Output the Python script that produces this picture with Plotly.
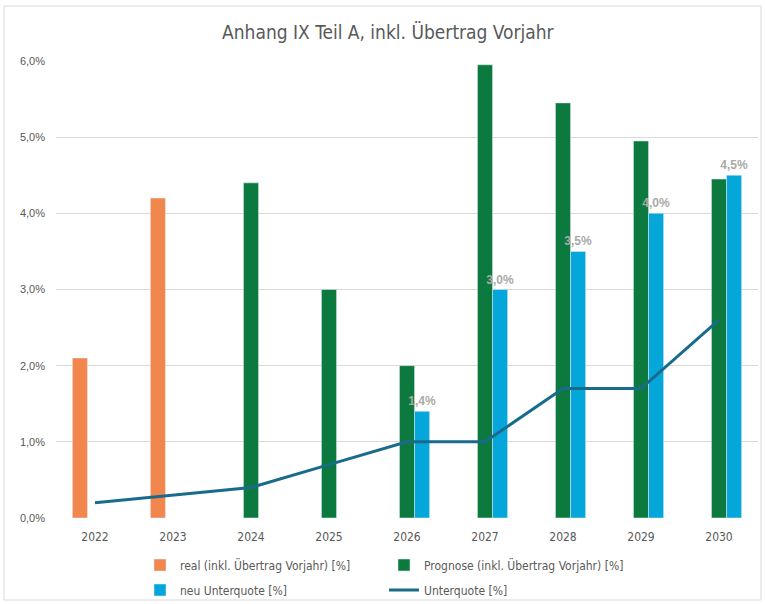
import plotly.graph_objects as go

years = ["2022", "2023", "2024", "2025", "2026", "2027", "2028", "2029", "2030"]
real = [2.1, 4.2, None, None, None, None, None, None, None]
prognose = [None, None, 4.4, 3.0, 2.0, 5.95, 5.45, 4.95, 4.45]
neu_unterquote = [None, None, None, None, 1.4, 3.0, 3.5, 4.0, 4.5]
unterquote = [0.2, 0.3, 0.4, 0.7, 1.0, 1.0, 1.7, 1.7, 2.6]
y_ticks = [0, 1, 2, 3, 4, 5, 6]
y_tick_labels = ["0,0%", "1,0%", "2,0%", "3,0%", "4,0%", "5,0%", "6,0%"]

W, H = 765, 604
L, R, T, B = 56, 7, 61, 86
pw, ph = W - L - R, H - T - B

narrow = "Liberation Sans Narrow, DejaVu Sans Condensed, Roboto Condensed, Arial Narrow, sans-serif"
regular = "Liberation Sans, Arial, sans-serif"

fig = go.Figure()
fig.add_bar(x=years, y=real, name="real (inkl. Übertrag Vorjahr) [%]", marker_color="#F1874D",
            legend="legend")
fig.add_bar(x=years, y=prognose, name="Prognose (inkl. Übertrag Vorjahr) [%]", marker_color="#0C7A3E",
            legend="legend")
fig.add_bar(x=years, y=neu_unterquote, name="neu Unterquote [%]", marker_color="#05A6D9",
            texttemplate="%{y:.1f}%", textposition="outside", cliponaxis=False, constraintext="none",
            textfont=dict(family=regular, size=12, color="#A9A9A9", weight="bold"),
            legend="legend2")
fig.add_scatter(x=years, y=unterquote, name="Unterquote [%]", mode="lines",
                line=dict(color="#196B8C", width=3), legend="legend2")

def px2paper_x(px):
    return (px - L) / pw

def px2paper_y(py):
    return (H - B - py) / ph

leg_common = dict(orientation="h", xref="container", yref="container", x=140 / W, xanchor="left",
                  yanchor="middle", entrywidth=199, entrywidthmode="pixels", traceorder="normal",
                  font=dict(family=narrow, size=12, color="#595959"), bgcolor="rgba(0,0,0,0)")

fig.update_layout(
    width=W, height=H,
    margin=dict(l=L, r=R, t=T, b=B, autoexpand=False),
    paper_bgcolor="white", plot_bgcolor="white",
    separators=",.",
    barmode="group", bargap=0.42, bargroupgap=0,
    title=dict(text="Anhang IX Teil A, inkl. Übertrag Vorjahr", x=0.507, xanchor="center",
               y=1 - 32 / H, yanchor="middle", yref="container",
               font=dict(family=narrow, size=19, color="#595959")),
    xaxis=dict(type="category", showgrid=False, showline=False, ticks="", automargin=False,
               ticklabelstandoff=10,
               tickfont=dict(family=narrow, size=12, color="#595959")),
    yaxis=dict(range=[0, 6], tickvals=y_ticks, ticktext=y_tick_labels, automargin=False,
               showgrid=True, gridcolor="#D9D9D9", gridwidth=1, zeroline=False,
               showline=False, ticks="", ticklabelstandoff=10,
               tickfont=dict(family=regular, size=11, color="#595959")),
    legend=dict(leg_common, y=1 - 565 / H),
    legend2=dict(leg_common, y=1 - 590 / H),
    shapes=[dict(type="rect", xref="paper", yref="paper",
                 x0=px2paper_x(4), x1=px2paper_x(761), y0=px2paper_y(600), y1=px2paper_y(6),
                 line=dict(color="#D9D9D9", width=1), fillcolor="rgba(0,0,0,0)", layer="below")],
)

fig.write_html("out.html", config={"displayModeBar": False},
               post_script="document.body.style.margin='0';document.body.style.overflow='hidden';")
